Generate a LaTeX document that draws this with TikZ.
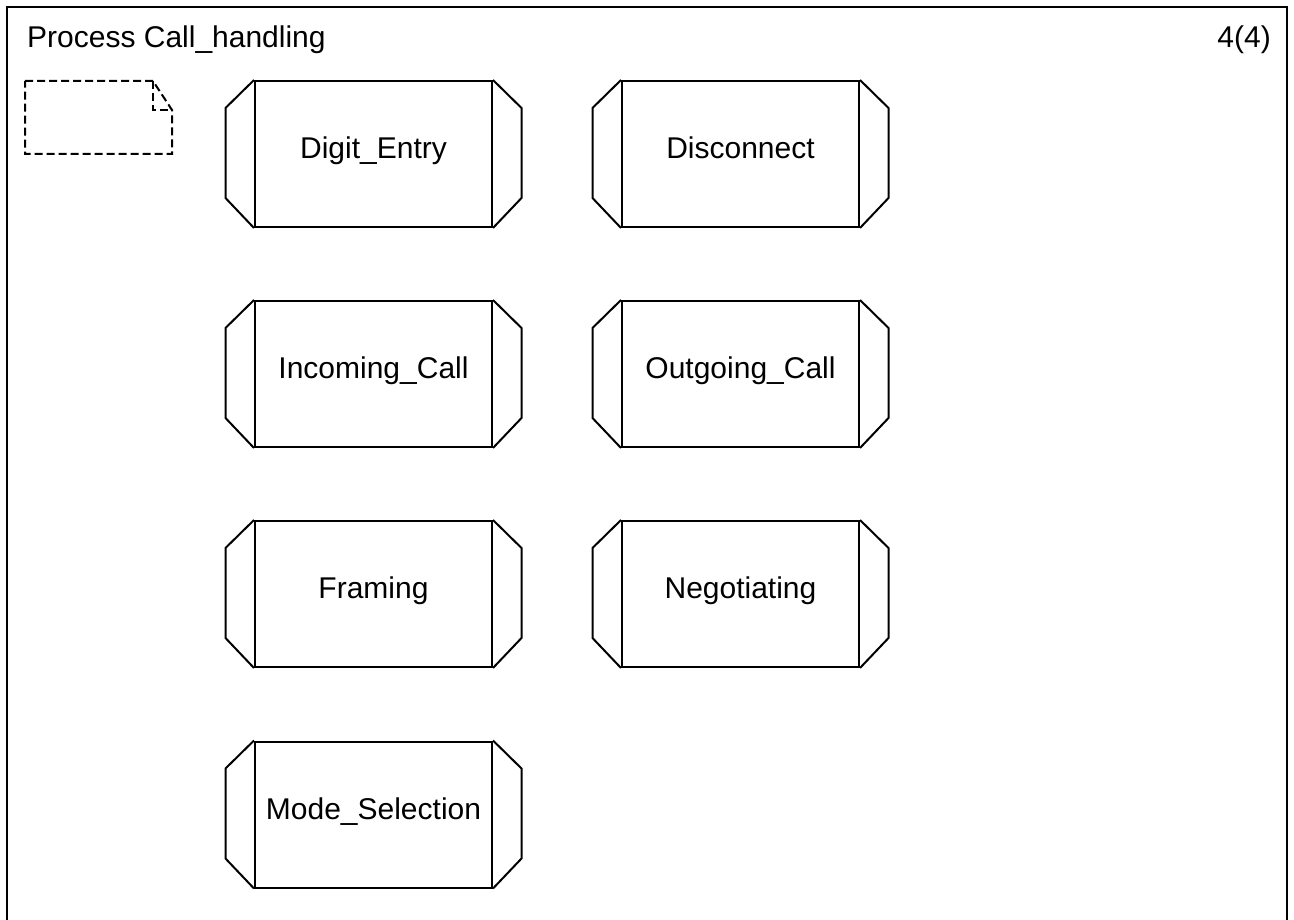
\documentclass[tikz,border=0pt]{standalone}
\usepackage{fontspec}
\setmainfont{Liberation Sans}
\usetikzlibrary{calc}
\tikzset{
  proc/.style={draw, line width=2pt, minimum width=237pt, minimum height=146pt,
    inner sep=0pt, text height=21.5pt, text depth=12.5pt,
    font=\fontsize{30pt}{36pt}\selectfont},
  chamfer/.style={line width=2pt, line join=miter},
  frametext/.style={inner sep=0pt, font=\fontsize{30pt}{36pt}\selectfont},
  notebox/.style={line width=2pt, dash pattern=on 8pt off 4pt}
}
\newcommand\procchamfers[1]{%
  \draw[chamfer] (#1.north west) -- ++(-28.5,28) -- ++(0,90) -- (#1.south west);
  \draw[chamfer] (#1.north east) -- ++(28.5,28) -- ++(0,90) -- (#1.south east);
}
\begin{document}
\begin{tikzpicture}[x=1pt,y=-1pt]
  \useasboundingbox (0,0) rectangle (1294,920);
  \draw[line width=2pt] (7,7) rectangle (1287,935);
  \node[frametext, anchor=base west] (title) at (27,48) {Process Call\_handling};
  \node[frametext, anchor=base east] (page) at (1271,48) {4(4)};
  % comment symbol (dashed)
  \draw[notebox] (25,81) -- (153,81) -- (172,110) -- (172,154) -- (25,154) -- cycle;
  \draw[notebox] (153,81) -- (153,110) -- (172,110);
  % procedure references
  \node[proc] (digit) at (373.5,154) {Digit\_Entry};
  \node[proc] (disc) at (740.5,154) {Disconnect};
  \node[proc] (inc) at (373.5,374) {Incoming\_Call};
  \node[proc] (out) at (740.5,374) {Outgoing\_Call};
  \node[proc] (fram) at (373.5,594) {Framing};
  \node[proc] (nego) at (740.5,594) {Negotiating};
  \node[proc] (mode) at (373.5,814.5) {Mode\_Selection};
  \procchamfers{digit}
  \procchamfers{disc}
  \procchamfers{inc}
  \procchamfers{out}
  \procchamfers{fram}
  \procchamfers{nego}
  \procchamfers{mode}
\end{tikzpicture}
\end{document}
